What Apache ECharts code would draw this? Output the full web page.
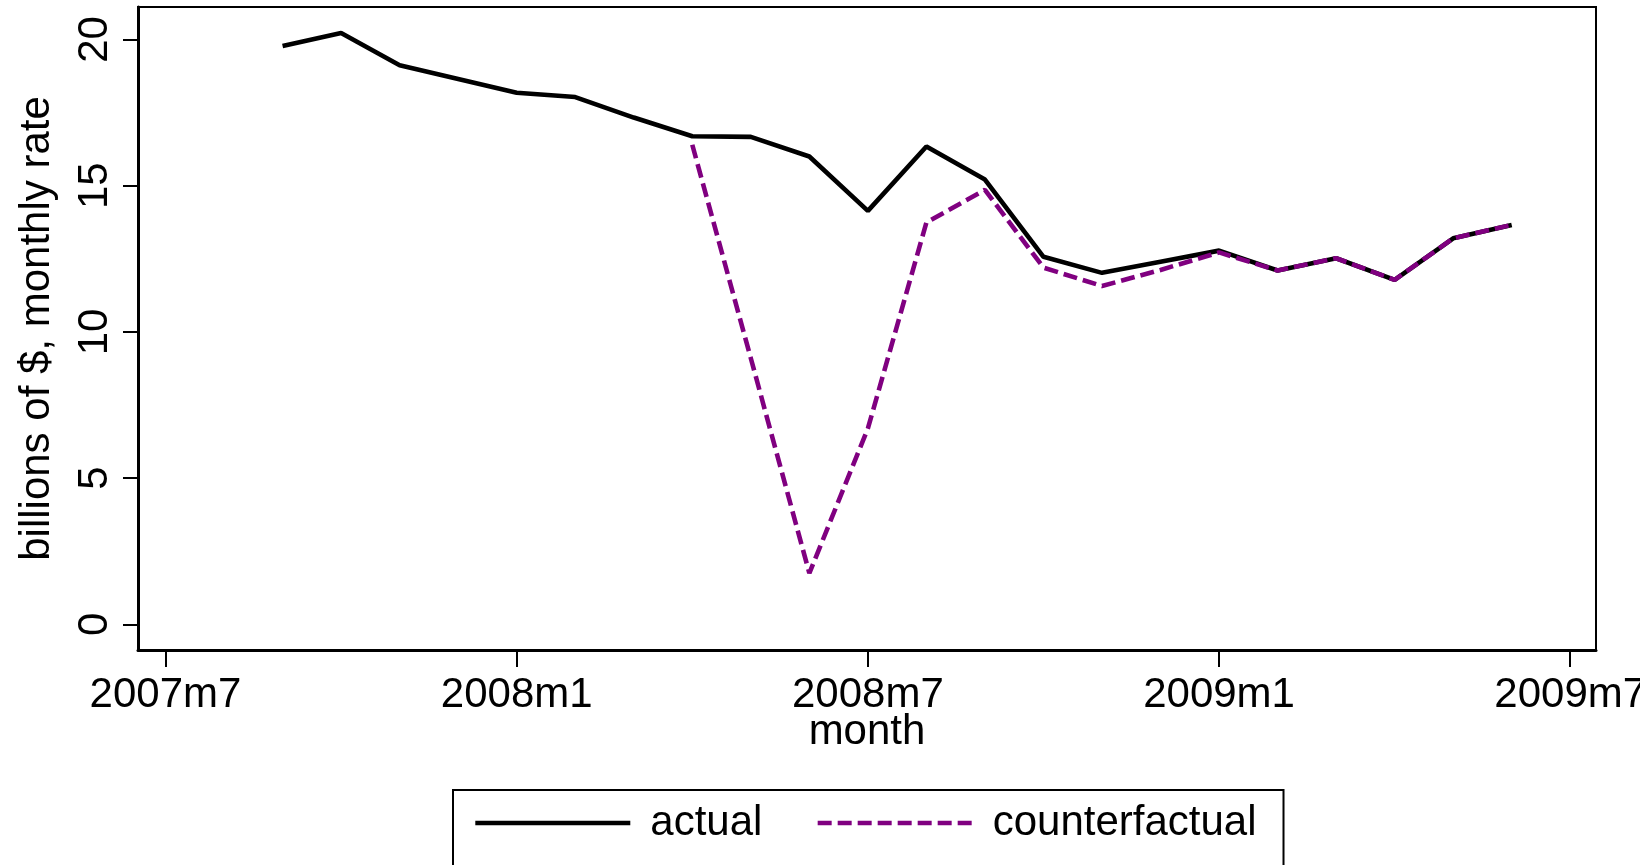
<!DOCTYPE html>
<html>
<head>
<meta charset="utf-8">
<script src="https://cdn.jsdelivr.net/npm/echarts@6/dist/echarts.min.js"></script>
<style>
  html, body { margin: 0; padding: 0; background: #fff; }
  #chart { width: 1640px; height: 865px; }
</style>
</head>
<body>
<div id="chart"></div>
<script>
// months shown, Stata style labels
const months = [
  '2007m9', '2007m10', '2007m11', '2007m12',
  '2008m1', '2008m2', '2008m3', '2008m4', '2008m5', '2008m6',
  '2008m7', '2008m8', '2008m9', '2008m10', '2008m11', '2008m12',
  '2009m1', '2009m2', '2009m3', '2009m4', '2009m5', '2009m6'
];
const actual = [
  19.78, 20.22, 19.12, 18.65,
  18.18, 18.03, 17.33, 16.69, 16.67, 16.00,
  14.14, 16.34, 15.21, 12.57, 12.02, 12.40,
  12.78, 12.10, 12.52, 11.78, 13.20, 13.66
];
// counterfactual only starts in 2008m4
const cfMonths = months.slice(7);
const counterfactual = [
  16.40, 9.10, 1.75,
  6.70, 13.74, 14.86, 12.20, 11.57, 12.12,
  12.72, 12.10, 12.52, 11.78, 13.20, 13.66
];
const xTickLabels = ['2007m7', '2008m1', '2008m7', '2009m1', '2009m7'];
const yTicks = [0, 5, 10, 15, 20];

const FONT = '"Liberation Sans", Arial, Helvetica, sans-serif';

// months since 2007m7
const toIndex = s => {
  const [y, m] = s.split('m').map(Number);
  return (y - 2007) * 12 + (m - 7);
};
const xTicks = xTickLabels.map(toIndex);

const chart = echarts.init(document.getElementById('chart'));
chart.setOption({
  animation: false,
  backgroundColor: '#fff',
  textStyle: { fontFamily: FONT, color: '#000' },
  grid: {
    left: 138, right: 44, top: 7, bottom: 215,
    outerBoundsMode: 'none',
    containLabel: false,
    show: true, borderColor: '#000', borderWidth: 2
  },
  xAxis: {
    type: 'value',
    min: -0.47, max: 24.44,
    name: 'month',
    nameLocation: 'middle',
    nameGap: 61,
    nameMoveOverlap: false,
    nameTextStyle: { fontSize: 42, color: '#000', fontFamily: FONT },
    axisLine: { show: true, onZero: false, lineStyle: { color: '#000', width: 3 } },
    axisTick: { show: true, length: 17, customValues: xTicks, lineStyle: { color: '#000', width: 2 } },
    axisLabel: {
      customValues: xTicks,
      fontSize: 42, color: '#000', fontFamily: FONT, margin: 24,
      formatter: v => xTickLabels[xTicks.indexOf(Math.round(v))] || ''
    },
    splitLine: { show: false }
  },
  yAxis: {
    type: 'value',
    min: -0.875, max: 21.11,
    name: 'billions of $, monthly rate',
    nameLocation: 'middle',
    nameGap: 80,
    nameTextStyle: { fontSize: 42, color: '#000', fontFamily: FONT },
    axisLine: { show: true, onZero: false, lineStyle: { color: '#000', width: 3 } },
    axisTick: { show: true, length: 15, customValues: yTicks, lineStyle: { color: '#000', width: 2 } },
    axisLabel: {
      customValues: yTicks,
      rotate: 90,
      fontSize: 42, color: '#000', fontFamily: FONT, margin: 22,
      formatter: v => String(Math.round(v))
    },
    splitLine: { show: false }
  },
  legend: {
    left: 453, top: 790,
    padding: [8, 27, 80, 20],
    borderColor: '#000', borderWidth: 2,
    itemWidth: 155, itemHeight: 26, itemGap: 53,
    selectedMode: false,
    itemStyle: { opacity: 0 },
    lineStyle: { width: 4.6 },
    textStyle: { fontSize: 42, color: '#000', fontFamily: FONT, lineHeight: 50, padding: [0, 0, 0, 15] },
    data: ['actual', 'counterfactual']
  },
  series: [
    {
      name: 'actual',
      type: 'line',
      symbol: 'none',
      lineStyle: { color: '#000', width: 4.6 },
      itemStyle: { color: '#000' },
      data: months.map((m, i) => [toIndex(m), actual[i]])
    },
    {
      name: 'counterfactual',
      type: 'line',
      symbol: 'none',
      lineStyle: { color: '#800080', width: 4.6, type: [14, 6] },
      itemStyle: { color: '#800080' },
      data: cfMonths.map((m, i) => [toIndex(m), counterfactual[i]])
    }
  ]
});
</script>
</body>
</html>
